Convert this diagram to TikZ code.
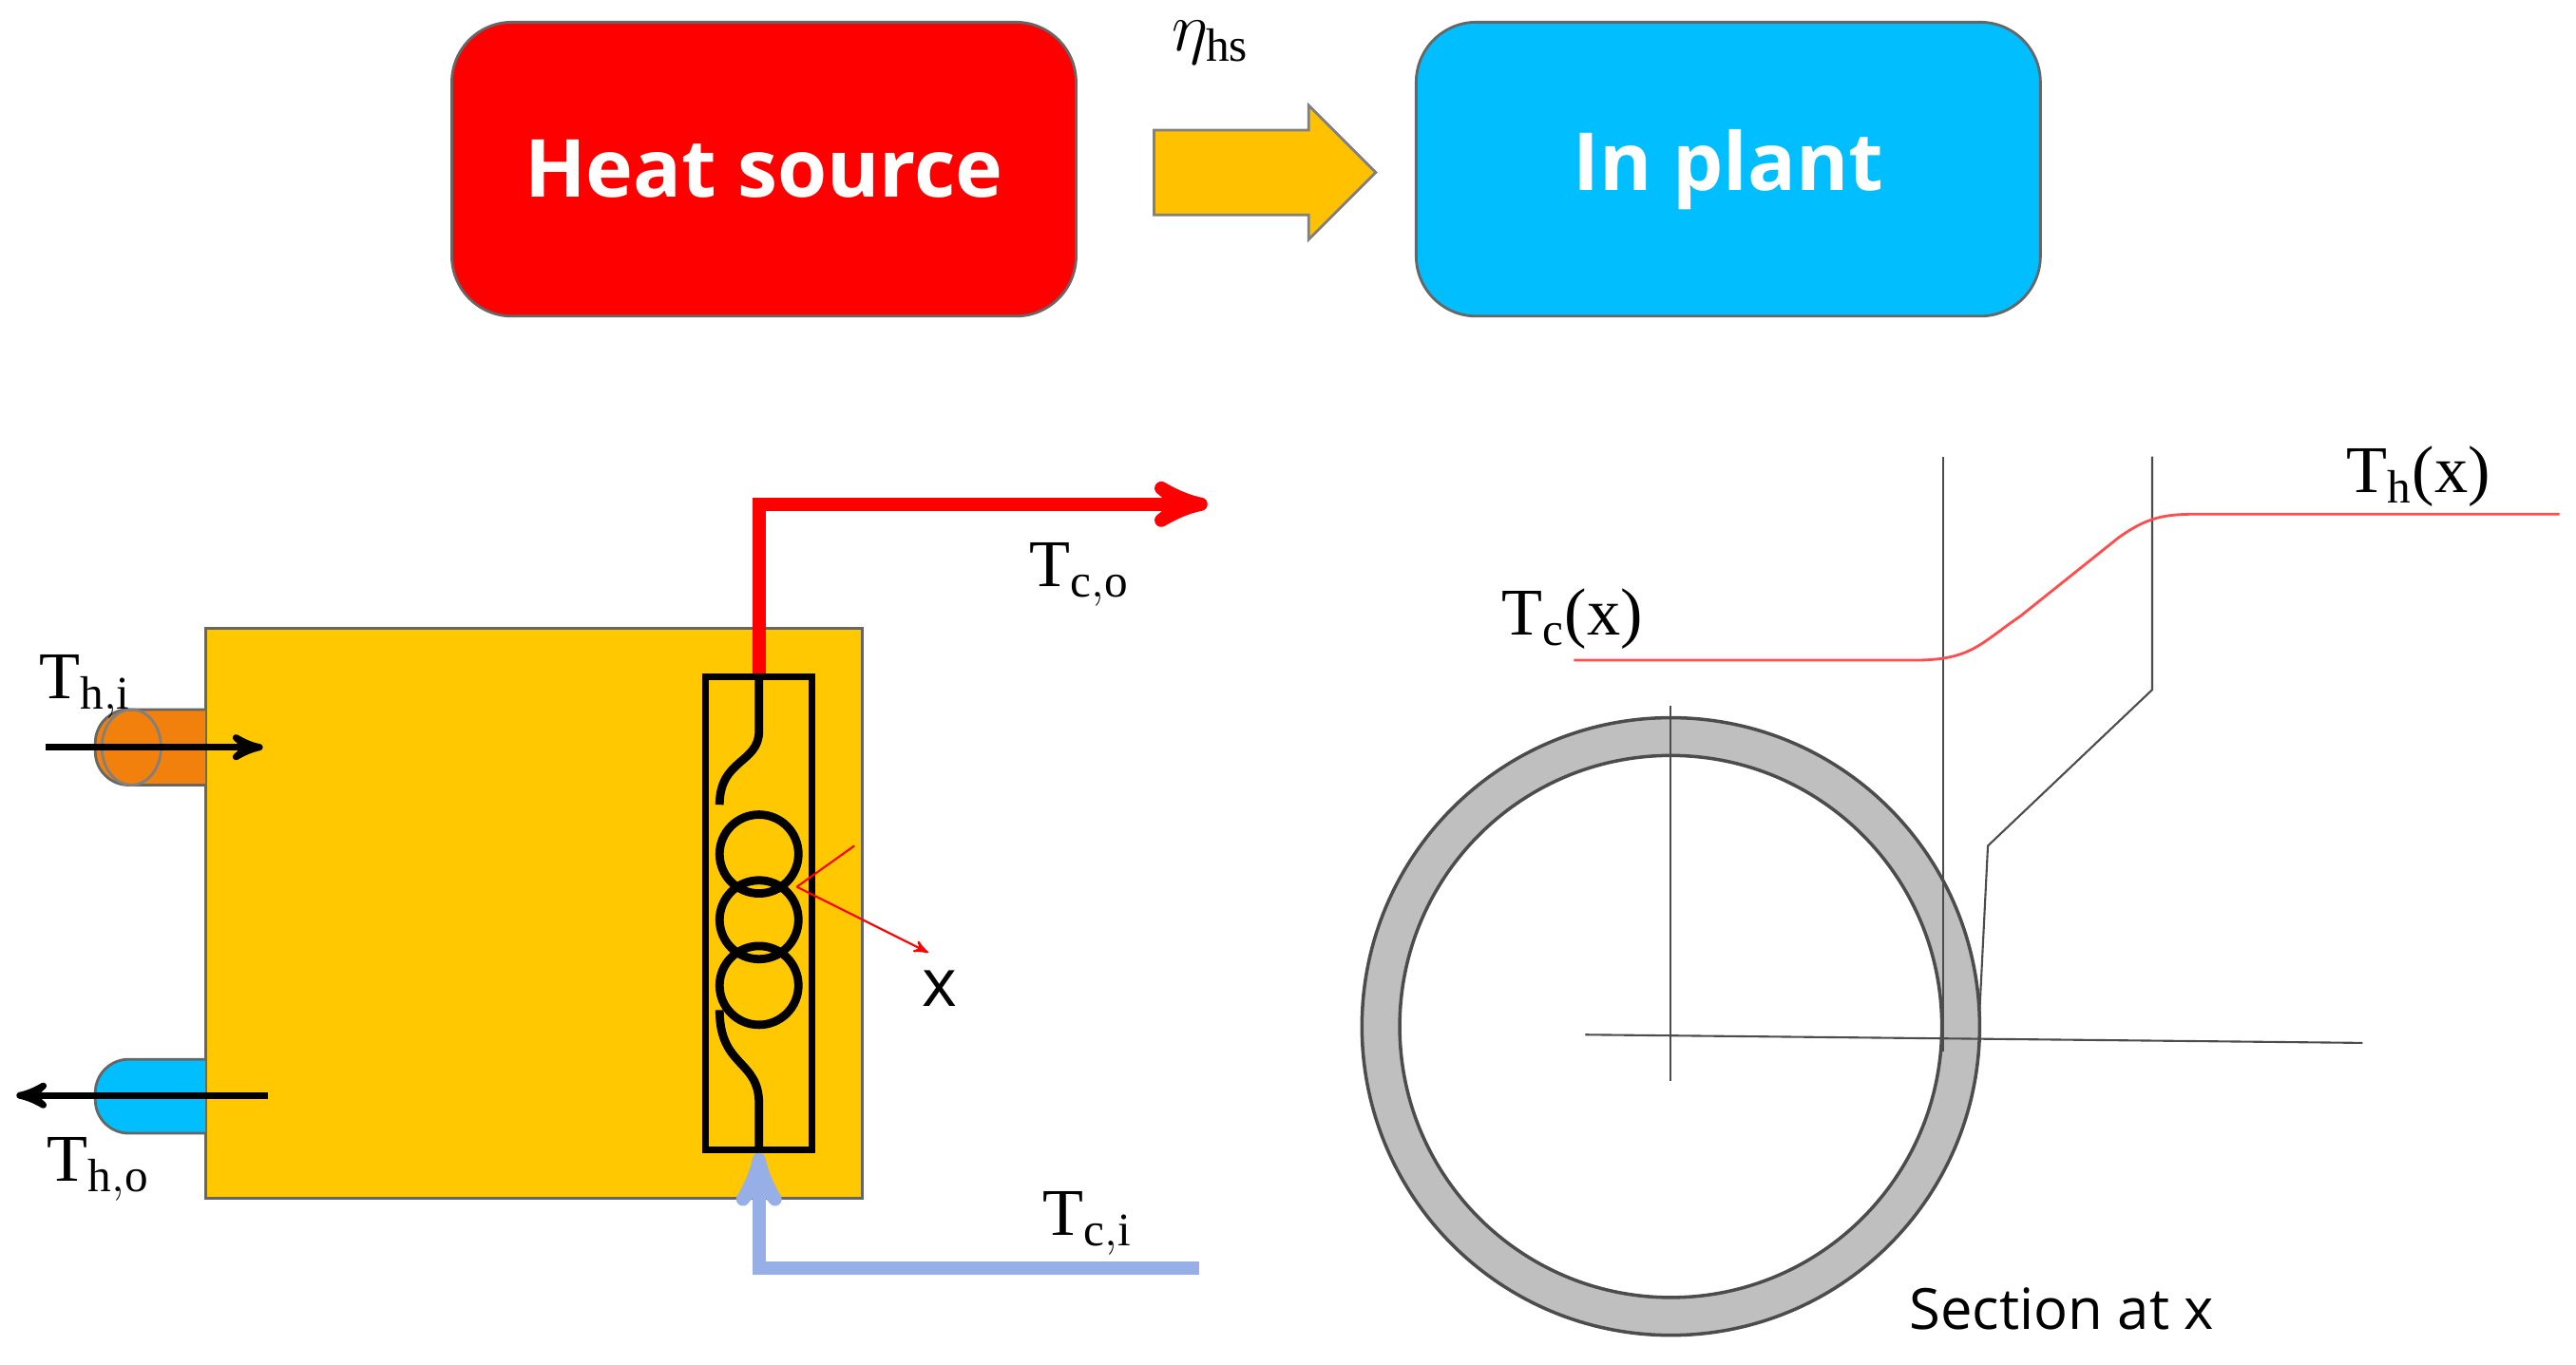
\documentclass[tikz,border=0pt]{standalone}
\usepackage{fontspec}
\setmainfont{Liberation Serif}
\newfontfamily\sff{Open Sans}
\usetikzlibrary{shapes, arrows, shapes.arrows}
\definecolor{hsred}{RGB}{255,0,0}
\definecolor{plantblue}{RGB}{0,190,255}
\definecolor{gold}{RGB}{255,200,0}
\definecolor{cold}{RGB}{150,175,230}
\begin{document}
\begin{tikzpicture}[x=0.01729cm,y=-0.01729cm,>=stealth',thick,
      main node/.style={rounded corners=18pt,draw=black!60,minimum width=380*0.01729cm,
        minimum height=179*0.01729cm,font=\sff\bfseries\fontsize{24}{28}\selectfont,text=white},
      lab node/.style={font=\fontsize{20}{24}\selectfont},
      thin line/.style={draw=black!70,line width=0.6pt}]
    \useasboundingbox (0,0) rectangle (1568,831);

    % top row
    \node[main node,fill=hsred] (hs) at (465,103) {Heat source};
    \node[main node,fill=plantblue] (ip) at (1052,103) {In plant};
    \node[single arrow,draw=black!50,fill=gold!90!orange,inner xsep=0pt,inner ysep=25*0.01729cm,
      single arrow head extend=15*0.01729cm,minimum height=135*0.01729cm] (arr) at (757,105) {};
    \node[lab node] (eta) at (737,26) {$\eta_{\mathrm{hs}}$};

    % heat exchanger
    \node[draw=black!60,fill=gold,minimum width=400*0.01729cm,minimum height=347*0.01729cm] (box) at (325,556) {};
    \draw[draw=black!60,fill=orange!80!brown,rounded corners=10pt] (125,432) -- (58,432) -- (58,478) -- (125,478);
    \draw[draw=black!50] (80,455) ellipse (18 and 23);
    \draw[draw=black!60,fill=plantblue,rounded corners=10pt] (125,645) -- (58,645) -- (58,690) -- (125,690);
    \coordinate (hi1) at (28,455); \coordinate (hi2) at (160,455);
    \coordinate (ho1) at (163,667); \coordinate (ho2) at (10,667);
    \draw[->,line width=2pt] (hi1) -- (hi2);
    \draw[->,line width=2pt] (ho1) -- (ho2);
    \node[lab node] (thi) at (52,418) {T$_{\mathrm{h,i}}$};
    \node[lab node] (tho) at (60,712) {T$_{\mathrm{h,o}}$};

    \node[draw,line width=2pt,minimum width=65*0.01729cm,minimum height=288*0.01729cm] (coil) at (462,556) {};
    \coordinate (co1) at (462,307); \coordinate (co2) at (735,307);
    \coordinate (ci1) at (730,772); \coordinate (ci2) at (462,772);
    \draw[->,hsred,line width=4pt] (coil.north) -- (co1) -- (co2);
    \draw[->,cold,line width=4pt] (ci1) -- (ci2) -- (coil.south);
    \draw[line width=2.5pt] (462,414) -- (462,445) .. controls (462,465) and (438,462) .. (438,490);
    \draw[line width=2.5pt] (462,520) circle (24) (462,560) circle (24) (462,600) circle (24);
    \draw[line width=2.5pt] (438,615) .. controls (438,650) and (462,645) .. (462,672) -- (462,698);
    \node[lab node] (tco) at (657,350) {T$_{\mathrm{c,o}}$};
    \node[lab node] (tci) at (662,745) {T$_{\mathrm{c,i}}$};
    \coordinate (xa) at (485,540); \coordinate (xb) at (565,580); \coordinate (xc) at (520,515);
    \draw[->,red,line width=0.6pt] (xa) -- (xb);
    \draw[red,line width=0.6pt] (xa) -- (xc);
    \node[font=\sff\fontsize{20}{24}\selectfont] (x) at (572,602) {x};

    % section
    \draw[draw=black!70,fill=black!25,even odd rule,line width=1pt] (1017,625) circle (188) (1017,625) circle (165);
    \draw[thin line] (1017,430) -- (1017,658);
    \draw[thin line] (965,630) -- (1438,635);
    \draw[thin line] (1183,278) -- (1183,640);
    \draw[thin line] (1310,278) -- (1310,420) -- (1210,515) -- (1205,615);
    \draw[red!70,line width=0.8pt] (958,402) -- (1165,402) .. controls (1200,402) and (1205,392) .. (1230,375)
      -- (1290,327) .. controls (1310,313) and (1320,313) .. (1345,313) -- (1558,313);
    \node[lab node] (tc) at (957,377) {T$_{\mathrm{c}}$(x)};
    \node[lab node] (th) at (1472,290) {T$_{\mathrm{h}}$(x)};
    \node[font=\sff\fontsize{17}{20}\selectfont] (sec) at (1255,797) {Section at x};
\end{tikzpicture}
\end{document}
